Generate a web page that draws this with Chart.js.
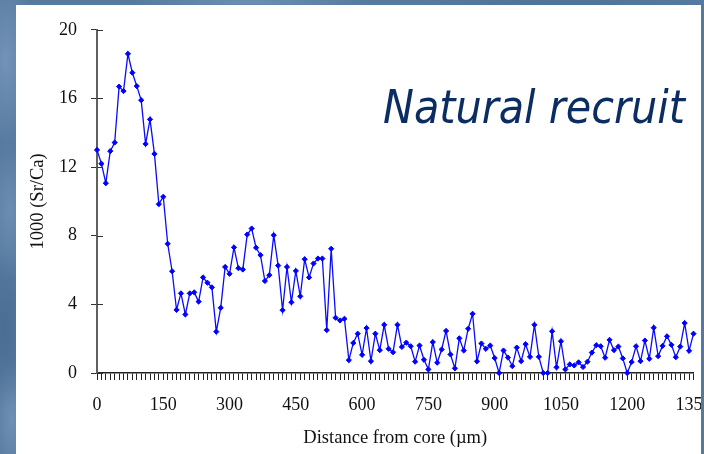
<!DOCTYPE html>
<html>
<head>
<meta charset="utf-8">
<script src="https://cdn.jsdelivr.net/npm/chart.js@4/dist/chart.umd.min.js"></script>
<style>
  html, body { margin: 0; padding: 0; }
  body {
    width: 704px; height: 454px; overflow: hidden; position: relative;
    background-color: #56799f;
    background-image:
      radial-gradient(ellipse 30px 90px at 6px 60px, rgba(150,180,212,0.45), rgba(150,180,212,0) 100%),
      radial-gradient(ellipse 24px 70px at 10px 210px, rgba(140,172,205,0.40), rgba(140,172,205,0) 100%),
      radial-gradient(ellipse 26px 80px at 4px 330px, rgba(60,95,135,0.45), rgba(60,95,135,0) 100%),
      radial-gradient(ellipse 20px 60px at 12px 420px, rgba(150,180,212,0.40), rgba(150,180,212,0) 100%),
      radial-gradient(ellipse 120px 8px at 250px 2px, rgba(140,170,205,0.45), rgba(140,170,205,0) 100%),
      radial-gradient(ellipse 140px 8px at 560px 3px, rgba(70,105,145,0.45), rgba(70,105,145,0) 100%);
  }
  #panel {
    position: absolute; left: 16px; top: 5px; width: 685px; height: 449px;
    background: #ffffff; overflow: hidden;
  }
  #chart { position: absolute; left: 0; top: 0; }
  #caption {
    position: absolute; left: 367px; top: 79px;
    font-family: "DejaVu Sans Condensed", "DejaVu Sans", sans-serif;
    font-style: italic; font-size: 46px; line-height: 1;
    color: #0b2d62; white-space: nowrap;
  }
</style>
</head>
<body>
<div id="panel">
  <canvas id="chart" width="710" height="449"></canvas>
  <div id="caption">Natural recruit</div>
</div>
<script>
// Distance from the otolith core (µm) and the Sr/Ca ratio (x1000) at each spot
const distances = [
  0, 10, 20, 30, 40, 50, 60, 70, 80, 90,
  100, 110, 120, 130, 140, 150, 160, 170, 180, 190,
  200, 210, 220, 230, 240, 250, 260, 270, 280, 290,
  300, 310, 320, 330, 340, 350, 360, 370, 380, 390,
  400, 410, 420, 430, 440, 450, 460, 470, 480, 490,
  500, 510, 520, 530, 540, 550, 560, 570, 580, 590,
  600, 610, 620, 630, 640, 650, 660, 670, 680, 690,
  700, 710, 720, 730, 740, 750, 760, 770, 780, 790,
  800, 810, 820, 830, 840, 850, 860, 870, 880, 890,
  900, 910, 920, 930, 940, 950, 960, 970, 980, 990,
  1000, 1010, 1020, 1030, 1040, 1050, 1060, 1070, 1080, 1090,
  1100, 1110, 1120, 1130, 1140, 1150, 1160, 1170, 1180, 1190,
  1200, 1210, 1220, 1230, 1240, 1250, 1260, 1270, 1280, 1290,
  1300, 1310, 1320, 1330, 1340, 1350
];
const srCa = [
  13.0, 12.2, 11.06, 12.93, 13.43, 16.69, 16.43, 18.6, 17.5, 16.72,
  15.9, 13.35, 14.78, 12.77, 9.84, 10.27, 7.53, 5.93, 3.68, 4.64,
  3.41, 4.64, 4.7, 4.16, 5.57, 5.26, 4.99, 2.41, 3.8, 6.18,
  5.78, 7.32, 6.11, 6.03, 8.07, 8.42, 7.3, 6.87, 5.36, 5.7,
  8.03, 6.26, 3.66, 6.18, 4.12, 5.95, 4.47, 6.63, 5.57, 6.38,
  6.67, 6.67, 2.5, 7.24, 3.22, 3.06, 3.16, 0.75, 1.75, 2.29,
  1.06, 2.62, 0.69, 2.29, 1.33, 2.81, 1.41, 1.21, 2.81, 1.52,
  1.77, 1.56, 0.66, 1.6, 0.77, 0.21, 1.8, 0.6, 1.37, 2.45,
  1.08, 0.27, 2.02, 1.31, 2.58, 3.45, 0.68, 1.72, 1.41, 1.6,
  0.87, 0.0, 1.31, 0.9, 0.4, 1.48, 0.69, 1.68, 0.94, 2.81,
  0.94, 0.0, 0.0, 2.43, 0.33, 1.85, 0.21, 0.5, 0.44, 0.62,
  0.35, 0.66, 1.19, 1.62, 1.56, 0.89, 1.93, 1.33, 1.54, 0.85,
  0.0, 0.64, 1.56, 0.69, 1.89, 0.83, 2.64, 0.98, 1.58, 2.14,
  1.64, 0.92, 1.54, 2.91, 1.29, 2.29
];
const xTickLabels = [0, 150, 300, 450, 600, 750, 900, 1050, 1200, 1350];
const yTickLabels = [0, 4, 8, 12, 16, 20];

const serif = "'Liberation Serif', 'Times New Roman', serif";

// Short inward half of each y-axis tick, so the ticks cross the axis line
const crossTicks = {
  id: 'crossTicks',
  afterDraw(chart) {
    const y = chart.scales.y;
    const ctx = chart.ctx;
    const left = chart.chartArea.left;
    ctx.save();
    ctx.strokeStyle = '#333333';
    ctx.lineWidth = 1;
    yTickLabels.forEach(v => {
      const py = Math.round(y.getPixelForValue(v)) + 0.5;
      ctx.beginPath();
      ctx.moveTo(left, py);
      ctx.lineTo(left + 6, py);
      ctx.stroke();
    });
    ctx.restore();
  }
};

new Chart(document.getElementById('chart'), {
  type: 'line',
  data: {
    datasets: [{
      data: distances.map((d, i) => ({ x: d, y: srCa[i] })),
      borderColor: '#0a0aff',
      backgroundColor: '#0a0aff',
      borderWidth: 1.3,
      pointStyle: 'rectRot',
      pointRadius: 2.6,
      pointBorderWidth: 1,
      pointBorderColor: '#0000ff',
      pointBackgroundColor: '#0000ff',
      tension: 0,
      clip: false
    }]
  },
  options: {
    responsive: false,
    animation: false,
    events: [],
    layout: { padding: { top: 22, right: 32.5, bottom: 0, left: 0 } },
    plugins: { legend: { display: false }, tooltip: { enabled: false } },
    scales: {
      x: {
        type: 'linear',
        min: 0, max: 1350,
        afterFit(scale) { scale.height = 81; },
        border: { display: true, color: '#222222', width: 1.5 },
        grid: { drawOnChartArea: false, drawTicks: true, tickLength: 7, color: '#222222', lineWidth: 1 },
        ticks: {
          stepSize: 10,
          autoSkip: false,
          maxRotation: 0, minRotation: 0,
          padding: 14,
          color: '#111111',
          font: { family: serif, size: 18, lineHeight: 1.2 },
          callback: v => xTickLabels.includes(Math.round(v)) ? String(Math.round(v)) : ''
        },
        title: {
          display: true,
          text: 'Distance from core (µm)',
          color: '#111111',
          font: { family: serif, size: 18.5, lineHeight: 1.2 },
          padding: { top: 0, bottom: 5 }
        }
      },
      y: {
        min: 0, max: 20,
        afterFit(scale) { scale.width = 81; },
        border: { display: true, color: '#606060', width: 2 },
        grid: { drawOnChartArea: false, drawTicks: true, tickLength: 6, color: '#333333', lineWidth: 1 },
        ticks: {
          stepSize: 4,
          padding: 14,
          color: '#111111',
          font: { family: serif, size: 18, lineHeight: 1.2 },
          callback: v => yTickLabels.includes(v) ? String(v) : ''
        },
        title: {
          display: true,
          text: '1000 (Sr/Ca)',
          color: '#111111',
          font: { family: serif, size: 18.5, lineHeight: 1.2 },
          padding: { top: 11.4, bottom: 0 }
        }
      }
    }
  },
  plugins: [crossTicks]
});
</script>
</body>
</html>
